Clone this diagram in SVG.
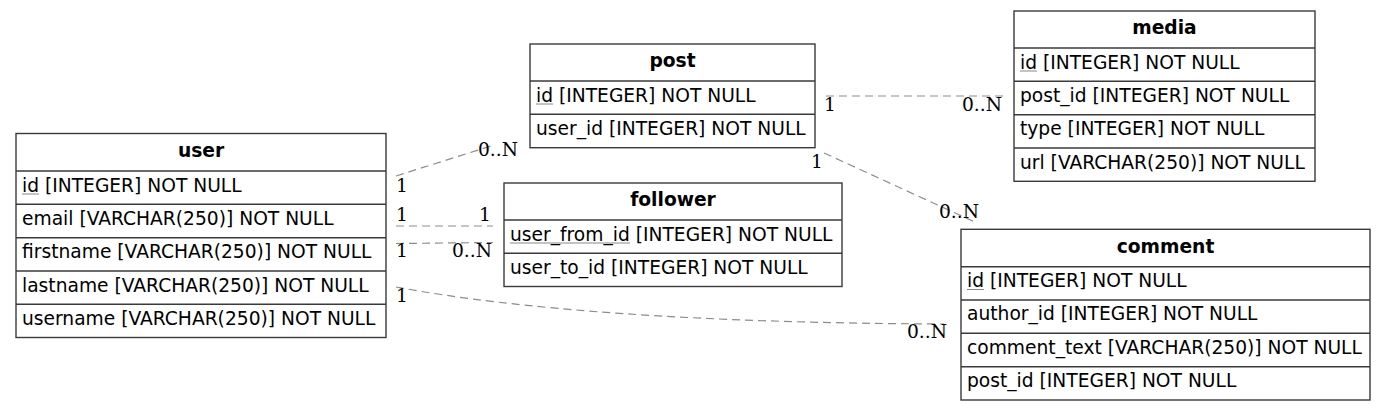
<svg xmlns="http://www.w3.org/2000/svg" width="1385" height="411" viewBox="0 0 1385 411">
<style>
.box{fill:#ffffff;stroke:#3a3a3a;stroke-width:1.4}
.sep{stroke:#3a3a3a;stroke-width:1.4}
.hd{font-family:"DejaVu Sans",sans-serif;font-weight:bold;font-size:18.67px;fill:#000;text-anchor:middle}
.row{font-family:"DejaVu Sans",sans-serif;font-size:18.67px;fill:#000}
.ul{stroke:#888;stroke-width:1}
.edge{fill:none;stroke:#8c8c8c;stroke-width:1.2;stroke-dasharray:8,5}
.lbl{font-family:"DejaVu Serif",serif;font-size:18.67px;fill:#000}
</style>
<rect width="1385" height="411" fill="#ffffff"/>
<g id="connectors">
<path class="edge" d="M396,176 L494,145"/>
<path class="edge" d="M396,226 L493,226"/>
<path class="edge" d="M396,243.5 L493,242.5"/>
<path class="edge" d="M396,287 C520,310 700,323 944,324"/>
<path class="edge" d="M826,96 L1003,96"/>
<path class="edge" d="M824,153 L977,223"/>
<text class="lbl" x="396" y="192">1</text>
<text class="lbl" x="478" y="156">0..N</text>
<text class="lbl" x="396" y="221">1</text>
<text class="lbl" x="479" y="221">1</text>
<text class="lbl" x="396" y="257">1</text>
<text class="lbl" x="452" y="257">0..N</text>
<text class="lbl" x="396" y="302">1</text>
<text class="lbl" x="907" y="337.5">0..N</text>
<text class="lbl" x="824" y="111">1</text>
<text class="lbl" x="962" y="111">0..N</text>
<text class="lbl" x="811" y="168">1</text>
<text class="lbl" x="939" y="218">0..N</text>
</g>
<g id="user">
<rect class="box" x="16" y="133.5" width="370" height="204"/>
<line class="sep" x1="16" y1="171" x2="386" y2="171"/>
<line class="sep" x1="16" y1="204.3" x2="386" y2="204.3"/>
<line class="sep" x1="16" y1="237.7" x2="386" y2="237.7"/>
<line class="sep" x1="16" y1="271" x2="386" y2="271"/>
<line class="sep" x1="16" y1="304.3" x2="386" y2="304.3"/>
<text class="hd" x="201" y="157">user</text>
<text class="row" x="22" y="191.5">id [INTEGER] NOT NULL</text>
<line class="ul" x1="22" y1="194" x2="39" y2="194"/>
<text class="row" x="22" y="224.8">email [VARCHAR(250)] NOT NULL</text>
<text class="row" x="22" y="258.2">firstname [VARCHAR(250)] NOT NULL</text>
<text class="row" x="22" y="291.5">lastname [VARCHAR(250)] NOT NULL</text>
<text class="row" x="22" y="324.8">username [VARCHAR(250)] NOT NULL</text>
</g>
<g id="post">
<rect class="box" x="530" y="44" width="285" height="103.7"/>
<line class="sep" x1="530" y1="81" x2="815" y2="81"/>
<line class="sep" x1="530" y1="114.3" x2="815" y2="114.3"/>
<text class="hd" x="672.5" y="67">post</text>
<text class="row" x="536" y="101.5">id [INTEGER] NOT NULL</text>
<line class="ul" x1="536" y1="104" x2="553" y2="104"/>
<text class="row" x="536" y="134.8">user_id [INTEGER] NOT NULL</text>
</g>
<g id="follower">
<rect class="box" x="504" y="183" width="338" height="103.5"/>
<line class="sep" x1="504" y1="220" x2="842" y2="220"/>
<line class="sep" x1="504" y1="253.3" x2="842" y2="253.3"/>
<text class="hd" x="673" y="206">follower</text>
<text class="row" x="510" y="240.5">user_from_id [INTEGER] NOT NULL</text>
<line class="ul" x1="510" y1="243" x2="630" y2="243"/>
<text class="row" x="510" y="273.8">user_to_id [INTEGER] NOT NULL</text>
</g>
<g id="media">
<rect class="box" x="1014" y="11" width="301" height="170.3"/>
<line class="sep" x1="1014" y1="48" x2="1315" y2="48"/>
<line class="sep" x1="1014" y1="81.3" x2="1315" y2="81.3"/>
<line class="sep" x1="1014" y1="114.7" x2="1315" y2="114.7"/>
<line class="sep" x1="1014" y1="148" x2="1315" y2="148"/>
<text class="hd" x="1164.5" y="34">media</text>
<text class="row" x="1020" y="68.5">id [INTEGER] NOT NULL</text>
<line class="ul" x1="1020" y1="71" x2="1037" y2="71"/>
<text class="row" x="1020" y="101.8">post_id [INTEGER] NOT NULL</text>
<text class="row" x="1020" y="135.2">type [INTEGER] NOT NULL</text>
<text class="row" x="1020" y="168.5">url [VARCHAR(250)] NOT NULL</text>
</g>
<g id="comment">
<rect class="box" x="961" y="229.3" width="409" height="170.7"/>
<line class="sep" x1="961" y1="266.7" x2="1370" y2="266.7"/>
<line class="sep" x1="961" y1="300" x2="1370" y2="300"/>
<line class="sep" x1="961" y1="333.3" x2="1370" y2="333.3"/>
<line class="sep" x1="961" y1="366.7" x2="1370" y2="366.7"/>
<text class="hd" x="1165.5" y="252.5">comment</text>
<text class="row" x="967" y="287">id [INTEGER] NOT NULL</text>
<line class="ul" x1="967" y1="289.5" x2="984" y2="289.5"/>
<text class="row" x="967" y="320.3">author_id [INTEGER] NOT NULL</text>
<text class="row" x="967" y="353.7">comment_text [VARCHAR(250)] NOT NULL</text>
<text class="row" x="967" y="387">post_id [INTEGER] NOT NULL</text>
</g>
</svg>
